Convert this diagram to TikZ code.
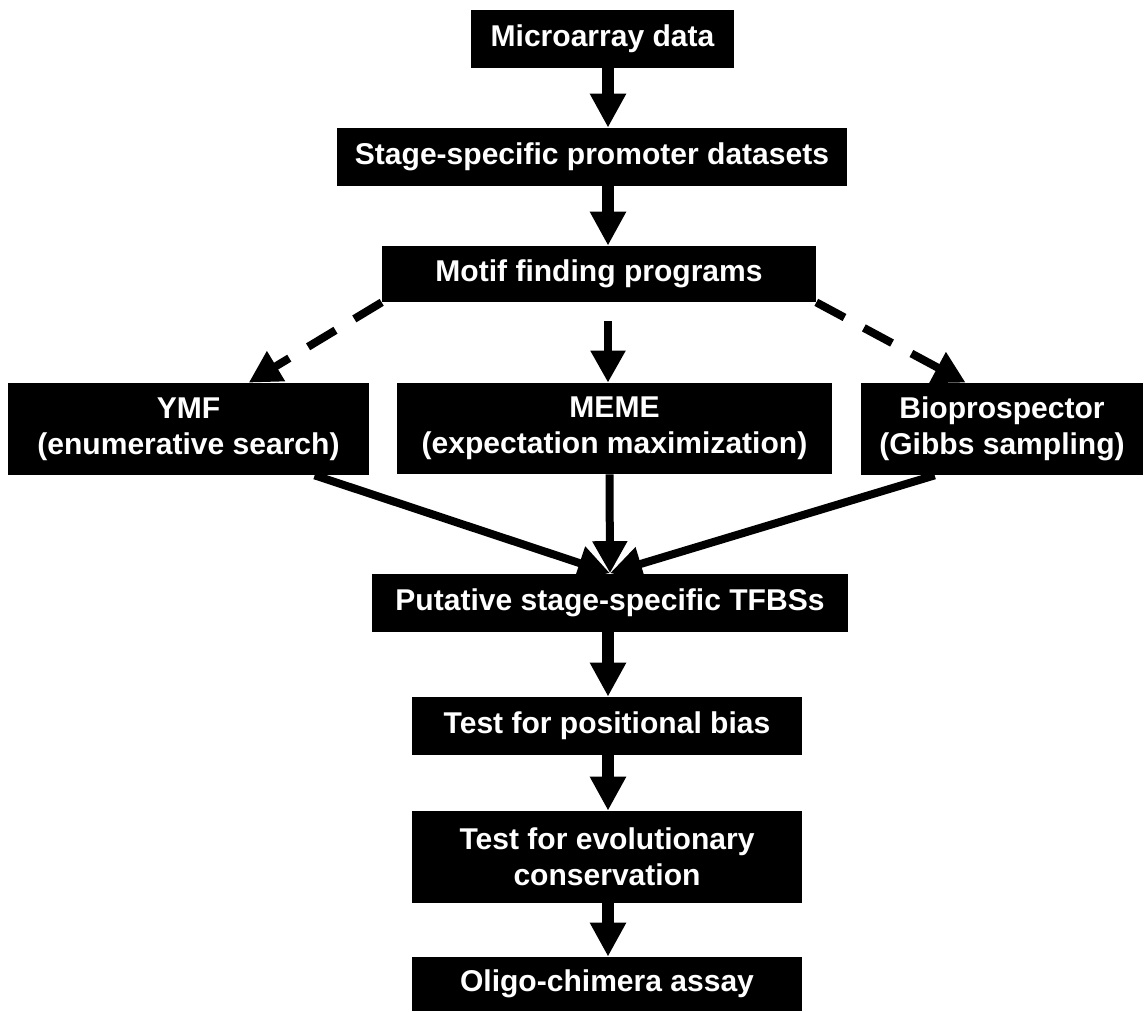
\documentclass[tikz,border=0pt]{standalone}
\usepackage{fontspec}
\setmainfont{Liberation Sans}
\usepackage{tikz}
\usetikzlibrary{positioning,calc,arrows.meta}

\begin{document}
\begin{tikzpicture}[x=0.02cm,y=-0.02cm,
		box/.style={rectangle,fill=black,text=white,align=center,inner sep=0pt,font=\fontsize{17.1}{20.5}\selectfont\bfseries},
		bigarrow/.style={line width=0.23cm,-{Triangle[length=0.68cm,width=0.68cm]}},
		thinarrow/.style={line width=0.16cm,-{Triangle[length=0.64cm,width=0.66cm]}},
		dasharrow/.style={thinarrow,dash pattern=on 0.64cm off 0.44cm}]
		
		\useasboundingbox (0,0) rectangle (1145,1011);
		
		\node[box,minimum width=5.26cm,minimum height=1.16cm] (A) at (602.5,39) {Microarray data};
		\node[box,minimum width=10.2cm,minimum height=1.16cm] (B) at (592,157) {Stage-specific promoter datasets};
		\node[box,minimum width=8.68cm,minimum height=1.12cm] (C) at (599,274) {Motif finding programs};
		
		\node[box,minimum width=7.22cm,minimum height=1.84cm] (D) at (188.5,429) {YMF\\(enumerative search)};
		\node[box,minimum width=8.7cm,minimum height=1.82cm] (E) at (614.5,428.5) {MEME\\(expectation maximization)};
		\node[box,minimum width=5.64cm,minimum height=1.84cm] (F) at (1002,429) {Bioprospector\\(Gibbs sampling)};
		
		\node[box,minimum width=9.52cm,minimum height=1.16cm] (G) at (610,602.5) {Putative stage-specific TFBSs};
		\node[box,minimum width=7.8cm,minimum height=1.16cm] (H) at (607,726) {Test for positional bias};
		\node[box,minimum width=7.8cm,minimum height=1.84cm] (I) at (607,857) {Test for evolutionary\\conservation};
		\node[box,minimum width=7.8cm,minimum height=1.08cm] (J) at (607,984) {Oligo-chimera assay};
		
		\coordinate (axis) at (608,0);
		
		%\draw [bigarrow] (A) -- (B);
		\draw[bigarrow] (A.south -| axis) -- (B.north -| axis);
		\draw[bigarrow] (B.south -| axis) -- (C.north -| axis);
		\draw[thinarrow,shorten <=0.38cm] (C.south -| axis) -- (E.north -| axis);
		\draw[dasharrow] (C.south west) -- ($(D.north west)+(241,0)$);
		\draw[dasharrow] (C.south east) -- ($(F.north west)+(105,0)$);
		
		\draw[thinarrow] ($(D.south west)+(307,0)$) -- (G.north);
		\draw[thinarrow] ($(E.south)+(-5,0)$) -- (G.north);
		\draw[thinarrow] ($(F.south west)+(74,0)$) -- (G.north);
		
		\draw[bigarrow] (G.south -| axis) -- (H.north -| axis);
		\draw[bigarrow] (H.south -| axis) -- (I.north -| axis);
		\draw[bigarrow] (I.south -| axis) -- (J.north -| axis);
		
\end{tikzpicture}
\end{document}
